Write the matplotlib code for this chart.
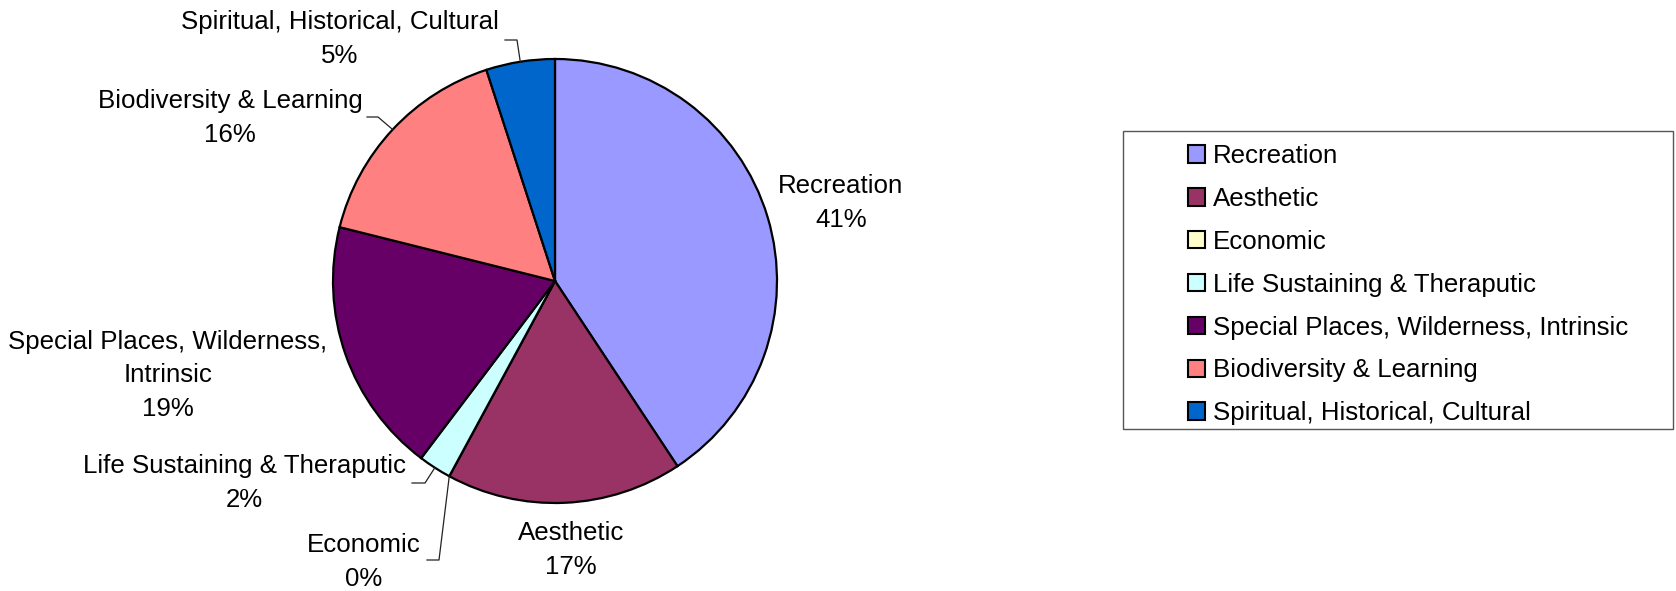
import matplotlib
matplotlib.use("Agg")
import numpy as np
import matplotlib.pyplot as plt
import matplotlib.patches as mpatches
from matplotlib.lines import Line2D

# ── Data ───────────────────────────────────────────────────────────────────
categories = [
    "Recreation",
    "Aesthetic",
    "Economic",
    "Life Sustaining & Theraputic",
    "Special Places, Wilderness, Intrinsic",
    "Biodiversity & Learning",
    "Spiritual, Historical, Cultural",
]
shares = [40.7, 17.2, 0.0, 2.4, 18.6, 16.1, 5.0]
pct_labels = ["41%", "17%", "0%", "2%", "19%", "16%", "5%"]
label_text = [
    "Recreation",
    "Aesthetic",
    "Economic",
    "Life Sustaining & Theraputic",
    "Special Places, Wilderness,\nIntrinsic",
    "Biodiversity & Learning",
    "Spiritual, Historical, Cultural",
]
colors = ["#9999FF", "#993366", "#FFFFCC", "#CCFFFF", "#660066", "#FF8080", "#0066CC"]

# ── Layout (pixels, origin top-left) ───────────────────────────────────────
W, H = 1676, 591
label_pos = [(841, 203), (571, 550), (364, 562), (244, 483),
             (168, 375), (230, 118), (340, 39)]
# leader: (start, elbow) in pixels, end snaps to wedge edge; None = no leader
leaders = [None, None,
           ((427, 560), (439, 560)),
           ((412, 483), (425, 483)),
           None,
           ((367, 117), (378, 117)),
           ((505, 40), (517, 40))]

FONT = "Liberation Sans"
FS = 18.6

fig = plt.figure(figsize=(W / 100, H / 100), dpi=100, facecolor="white")
cx, cy, r = 555, 281, 222
ax = fig.add_axes([(cx - r) / W, (H - cy - r) / H, 2 * r / W, 2 * r / H])

wedges, _ = ax.pie(shares, colors=colors, startangle=90, counterclock=False,
                   radius=1.0,
                   wedgeprops=dict(edgecolor="black", linewidth=1.6))
ax.set_xlim(-1, 1)
ax.set_ylim(-1, 1)
ax.axis("off")

for i, w in enumerate(wedges):
    lx, ly = label_pos[i]
    fig.text(lx / W, (H - ly) / H, f"{label_text[i]}\n{pct_labels[i]}",
             ha="center", va="center", fontsize=FS, family=FONT,
             linespacing=1.5, color="black")
    if leaders[i] is not None:
        ang = np.deg2rad((w.theta1 + w.theta2) / 2)
        ex, ey = ax.transData.transform((np.cos(ang), np.sin(ang)))
        (sx, sy), (bx, by) = leaders[i]
        line = Line2D([sx, bx, ex], [H - sy, H - by, ey],
                      transform=None, color="#222222", linewidth=0.9)
        fig.add_artist(line)

# legend
handles = [mpatches.Patch(facecolor=c, edgecolor="black", linewidth=1.5)
           for c in colors]
fig.legend(handles, categories, loc="upper left",
           bbox_to_anchor=(1170 / W, (H - 126) / H),
           frameon=False, prop=dict(family=FONT, size=FS),
           handlelength=0.66, handleheight=0.66, handletextpad=0.3,
           labelspacing=0.73, borderpad=0.2)
frame = mpatches.Rectangle((1123 / W, (H - 429) / H), (1673 - 1123) / W,
                           (429 - 131) / H, transform=fig.transFigure,
                           facecolor="none", edgecolor="#555555", linewidth=1.0)
fig.add_artist(frame)

fig.savefig("out.png", dpi=100, facecolor="white")
